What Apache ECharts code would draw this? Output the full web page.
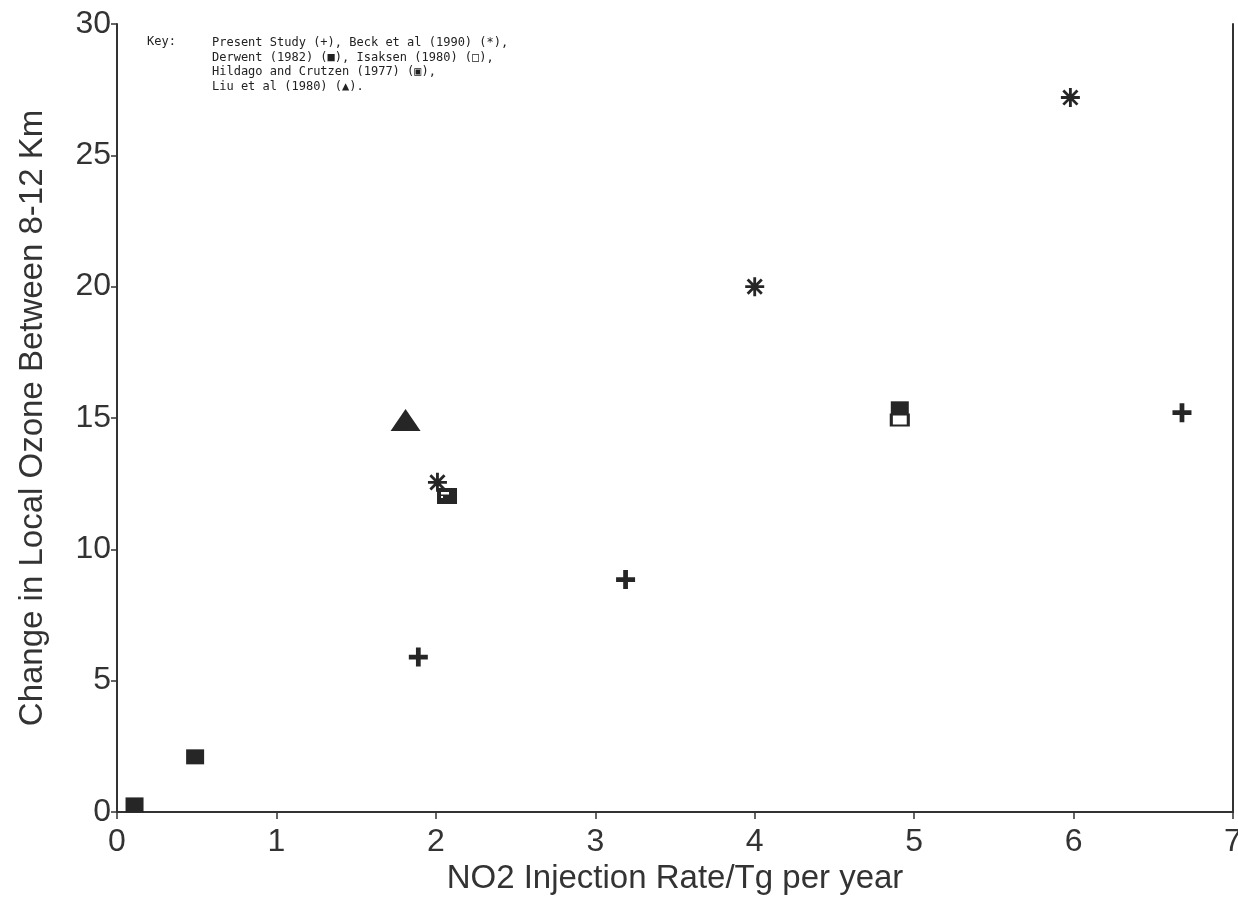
<!DOCTYPE html>
<html lang="en">
<head>
    <meta charset="UTF-8">
    <title>Ozone change vs NO2 injection</title>
    <script src="https://cdn.jsdelivr.net/npm/echarts@6/dist/echarts.min.js"></script>
    <style>
        body { margin: 0; background: #fff; }
    </style>
</head>
<body>
<div id="main" style="width: 1238px;height:912px;"></div>
<script>
    // values
    var presentX = [1.89, 3.19, 6.68];
    var presentY = [5.9, 8.85, 15.2];
    var beckX = [2.01, 4.0, 5.98];
    var beckY = [12.55, 20.0, 27.2];
    var derwentX = [0.11, 0.49, 4.91];
    var derwentY = [0.27, 2.1, 15.35];
    var isaksenX = [4.91];
    var isaksenY = [14.92];
    var hildagoX = [2.07];
    var hildagoY = [12.03];
    var liuX = [1.81];
    var liuY = [14.92];

    var keyLines = [
        'Present Study (+), Beck et al (1990) (*),',
        'Derwent (1982) (\u25A0), Isaksen (1980) (\u25A1),',
        'Hildago and Crutzen (1977) (\u25A3),',
        'Liu et al (1980) (\u25B2).'
    ];

    function pairs(xs, ys) {
        var out = [];
        for (var i = 0; i < xs.length; i++) out.push([xs[i], ys[i]]);
        return out;
    }

    var ink = '#262626';
    var plusPath = 'path://M3,0H5V3H8V5H5V8H3V5H0V3H3Z';
    var starPath = 'path://M0,8.5H20V11.5H0Z M8.5,0H11.5V20H8.5Z M1.5,3.6L3.6,1.5L18.5,16.4L16.4,18.5Z M16.4,1.5L18.5,3.6L3.6,18.5L1.5,16.4Z';
    var hildagoPath = 'path://M0,0H20V16H0Z M4,4V6.5H12V4Z M4,8V10H6V8Z';

    var myChart = echarts.init(document.getElementById('main'));
    var option = {
        backgroundColor: '#fff',
        animation: false,
        grid: { left: 117, right: 5, top: 24, bottom: 100, outerBoundsMode: 'none' },
        xAxis: {
            type: 'value',
            min: 0, max: 7, interval: 1,
            name: 'NO2 Injection Rate/Tg per year',
            nameLocation: 'middle',
            nameGap: 48,
            nameTextStyle: { fontFamily: 'Liberation Sans', fontSize: 33, color: '#333' },
            axisLine: { lineStyle: { color: '#333', width: 2 } },
            axisTick: { show: true, length: 7, lineStyle: { color: '#333', width: 1.5 } },
            axisLabel: { fontFamily: 'Liberation Sans', fontSize: 32, color: '#333', margin: 14 },
            splitLine: { show: false }
        },
        yAxis: [
            {
                type: 'value',
                min: 0, max: 30, interval: 5,
                name: 'Change in Local Ozone Between 8-12 Km',
                nameLocation: 'middle',
                nameGap: 68,
                nameTextStyle: { fontFamily: 'Liberation Sans', fontSize: 33, color: '#333' },
                axisLine: { show: true, lineStyle: { color: '#333', width: 2 } },
                axisTick: { show: true, length: 6, lineStyle: { color: '#333', width: 1.5 } },
                axisLabel: { fontFamily: 'Liberation Sans', fontSize: 32, color: '#333', margin: 6 },
                splitLine: { show: false }
            },
            {
                type: 'value',
                min: 0, max: 30, interval: 5,
                position: 'right',
                axisLine: { show: true, lineStyle: { color: '#333', width: 2 } },
                axisTick: { show: false },
                axisLabel: { show: false },
                splitLine: { show: false }
            }
        ],
        graphic: [
            {
                type: 'text', left: 147, top: 36,
                style: { text: 'Key:', fontFamily: 'DejaVu Sans Mono', fontSize: 12, fill: '#222' }
            },
            {
                type: 'text', left: 212, top: 36,
                style: {
                    text: keyLines.join('\n'),
                    fontFamily: 'DejaVu Sans Mono', fontSize: 12, lineHeight: 14.5, fill: '#222'
                }
            }
        ],
        series: [
            {
                name: 'Derwent (1982)', type: 'scatter',
                symbol: 'rect', symbolSize: [18, 15],
                itemStyle: { color: ink, opacity: 1 },
                data: pairs(derwentX, derwentY), z: 2
            },
            {
                name: 'Isaksen (1980)', type: 'scatter',
                symbol: 'rect', symbolSize: [17, 11],
                itemStyle: { color: '#fff', borderColor: ink, borderWidth: 2.5, opacity: 1 },
                data: pairs(isaksenX, isaksenY), z: 3
            },
            {
                name: 'Hildago and Crutzen (1977)', type: 'scatter',
                symbol: hildagoPath, symbolSize: [20, 16],
                itemStyle: { color: ink, opacity: 1 },
                data: pairs(hildagoX, hildagoY), z: 2
            },
            {
                name: 'Liu et al (1980)', type: 'scatter',
                symbol: 'triangle', symbolSize: [30, 22],
                itemStyle: { color: ink, opacity: 1 },
                data: pairs(liuX, liuY), z: 2
            },
            {
                name: 'Beck et al (1990)', type: 'scatter',
                symbol: starPath, symbolSize: 19,
                itemStyle: { color: ink, opacity: 1 },
                data: pairs(beckX, beckY), z: 4
            },
            {
                name: 'Present Study', type: 'scatter',
                symbol: plusPath, symbolSize: 19,
                itemStyle: { color: ink, opacity: 1 },
                data: pairs(presentX, presentY), z: 4
            }
        ]
    };
    myChart.setOption(option);
</script>
</body>
</html>
